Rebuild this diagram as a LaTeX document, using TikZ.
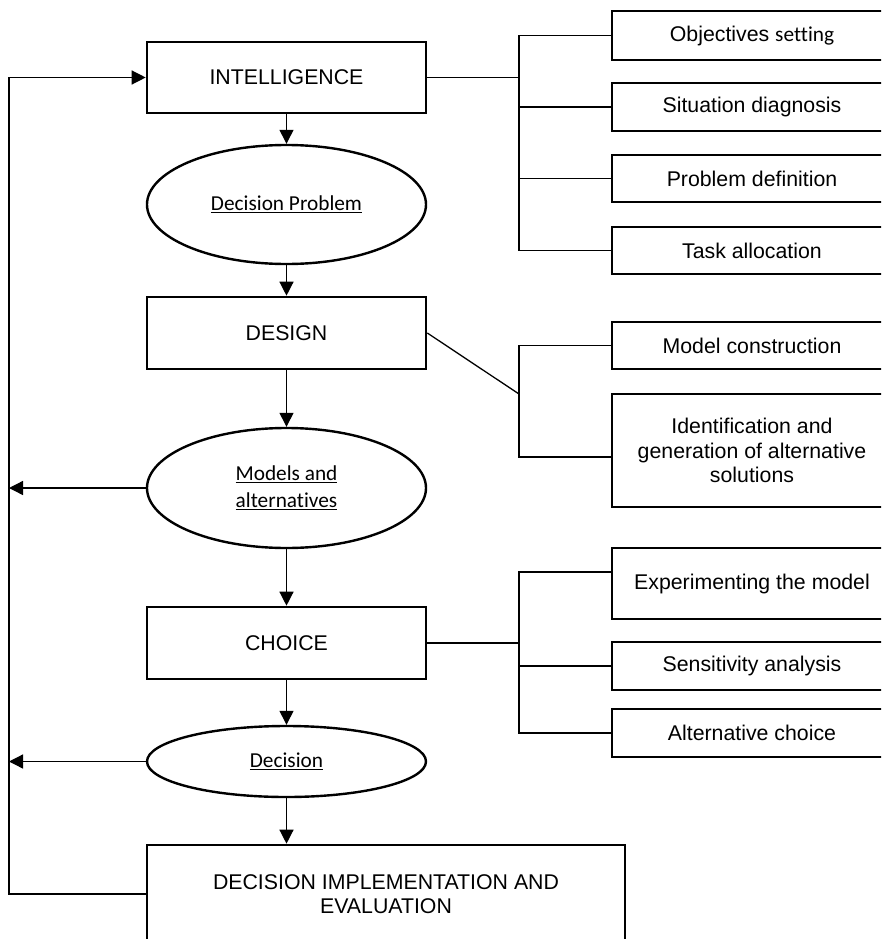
\documentclass[tikz,border=0pt]{standalone}
\usepackage{fontspec}
\setmainfont{Liberation Sans}
\newfontfamily\calib[Ligatures=CommonOff]{Carlito}
\usetikzlibrary{shapes.geometric,arrows.meta}
% underlined text with a firm rule just below the baseline
\newcommand\ulin[1]{\leavevmode\setbox0\hbox{#1}\rlap{\rule[-3pt]{\wd0}{1.5pt}}\box0}

\begin{document}
\begin{tikzpicture}[x=1pt,y=-1pt,
  txt/.style={font=\fontsize{21.3}{24.5}\selectfont},
  box/.style={draw,line width=2.6pt,rectangle,inner sep=0pt,align=center,txt},
  stage/.style={box,minimum width=279pt},
  task/.style={box,minimum width=280pt},
  oval/.style={draw,line width=2.4pt,ellipse,inner sep=0pt,align=center,
    minimum width=279pt,font=\calib\fontsize{21.3}{26}\selectfont},
  link/.style={line width=1.3pt},
  arr/.style={link,-{Triangle[width=14pt,length=14pt]}}]
\useasboundingbox (0,0) rectangle (881,939);
\clip (0,0) rectangle (881,939);

% main sequence of phases
\node[stage,minimum height=71pt] (intel) at (286.5,77.5) {INTELLIGENCE};
\node[oval,minimum height=119pt] (dp) at (286.5,204.5) {\ulin{Decision Problem}};
\node[stage,minimum height=72pt] (design) at (286.5,333) {DESIGN};
\node[oval,minimum height=120pt] (ma) at (286.5,488) {\ulin{Models and}\\[1pt]\ulin{alternatives}};
\node[stage,minimum height=72pt] (choice) at (286.5,643) {CHOICE};
\node[oval,minimum height=71pt] (dec) at (286.5,761.5) {\ulin{Decision}};
\node[box,minimum width=478pt,minimum height=98pt] (impl) at (386,894)
  {DECISION IMPLEMENTATION AND\\EVALUATION};

% activities of each phase
\node[task,minimum height=49pt] (obj) at (752,35.5) {Objectives {\calib setting}};
\node[task,minimum height=48pt] (sit) at (752,107) {Situation diagnosis};
\node[task,minimum height=47pt] (prob) at (752,178.5) {Problem definition};
\node[task,minimum height=47pt] (tsk) at (752,250.5) {Task allocation};
\node[task,minimum height=47pt] (model) at (752,345.5) {Model construction};
\node[task,minimum height=113pt] (ident) at (752,450.5)
  {Identification and\\generation of alternative\\solutions};
\node[task,minimum height=71pt] (exp) at (752,583.5) {Experimenting the model};
\node[task,minimum height=48pt] (sens) at (752,666) {Sensitivity analysis};
\node[task,minimum height=48pt] (alt) at (752,733) {Alternative choice};

% forward arrows
\draw[arr] (intel) -- (dp);
\draw[arr] (dp) -- (design);
\draw[arr] (design) -- (ma);
\draw[arr] (ma) -- (choice);
\draw[arr] (choice) -- (dec);
\draw[arr] (dec) -- (dec.south |- impl.north);

% feedback loop on the left
\coordinate (fb) at (9,894);
\draw[arr] (impl.west) -- (fb) |- (intel.west);
\draw[arr] (ma.west) -- (ma.west -| fb);
\draw[arr] (dec.west) -- (dec.west -| fb);

% brackets to the activities
\coordinate (bus1) at (519,77.5);
\draw[link] (intel.east) -- (bus1);
\draw[link] (obj.west) -| (bus1);
\draw[link] (tsk.west) -| (bus1);
\draw[link] (sit.west) -- (sit.west -| bus1);
\draw[link] (prob.west) -- (prob.west -| bus1);

\coordinate (bus2) at (519,394);
\draw[link] (design.east) -- (bus2);
\draw[link] (model.west) -| (bus2);
\draw[link] ([yshift=-6.5pt]ident.west) -| (bus2);

\coordinate (bus3) at (519,643);
\draw[link] (choice.east) -- (bus3);
\draw[link] ([yshift=11.5pt]exp.west) -| (bus3);
\draw[link] (alt.west) -| (bus3);
\draw[link] (sens.west) -- (sens.west -| bus3);
\end{tikzpicture}
\end{document}
